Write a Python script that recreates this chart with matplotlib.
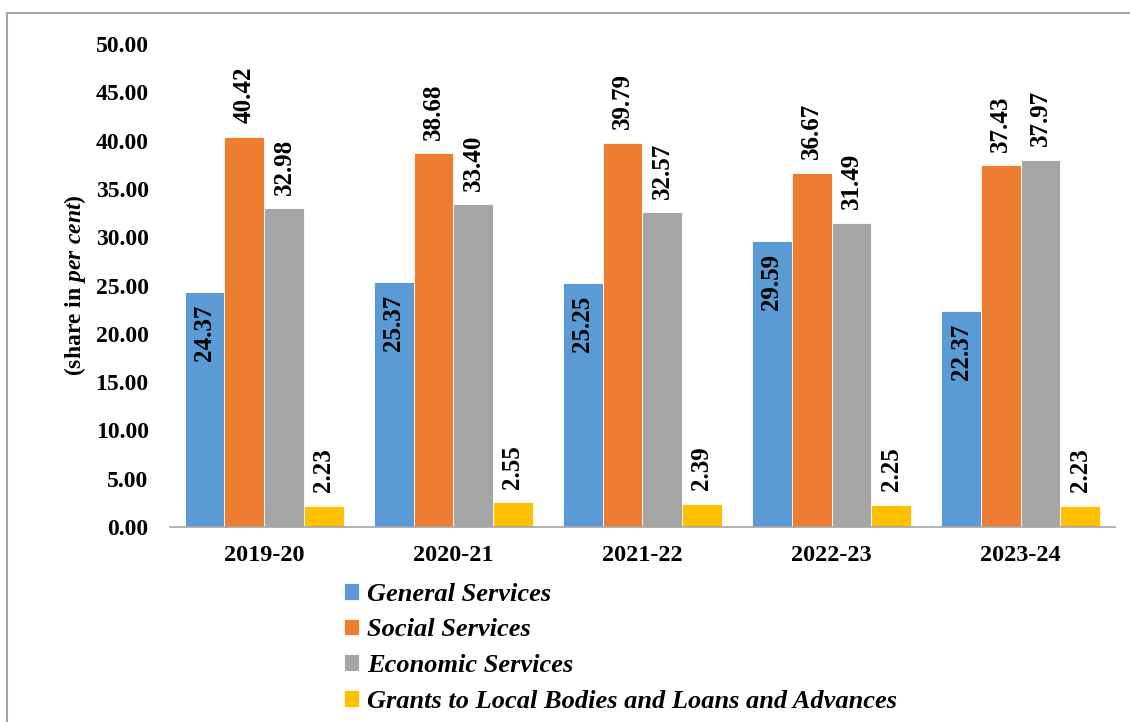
import numpy as np
import matplotlib
matplotlib.use("Agg")
import matplotlib.pyplot as plt
from matplotlib.lines import Line2D

plt.rcParams['font.family'] = ['Liberation Serif', 'DejaVu Serif']
plt.rcParams['font.weight'] = 'bold'
plt.rcParams['mathtext.fontset'] = 'custom'
plt.rcParams['mathtext.it'] = 'Liberation Serif:italic:bold'
plt.rcParams['mathtext.rm'] = 'Liberation Serif:bold'

years = ["2019-20", "2020-21", "2021-22", "2022-23", "2023-24"]
general = [24.37, 25.37, 25.25, 29.59, 22.37]
social = [40.42, 38.68, 39.79, 36.67, 37.43]
economic = [32.98, 33.40, 32.57, 31.49, 37.97]
grants = [2.23, 2.55, 2.39, 2.25, 2.23]

series = [
    ("General Services", general, "#5B9BD5"),
    ("Social Services", social, "#ED7D31"),
    ("Economic Services", economic, "#A5A5A5"),
    ("Grants to Local Bodies and Loans and Advances", grants, "#FFC000"),
]

fig = plt.figure(figsize=(11.3, 7.22), dpi=100)
ax = fig.add_axes([0.150, 0.270, 0.837, 0.669])

x = np.arange(len(years))
w = 0.21
for i, (name, vals, col) in enumerate(series):
    pos = x + (i - 1.5) * w
    bars = ax.bar(pos, vals, w, color=col, edgecolor="white", linewidth=0.6, label=name)
    for b, v in zip(bars, vals):
        cx = b.get_x() + b.get_width() / 2
        if i == 0:
            ax.annotate(f"{v:.2f}", (cx, v), xytext=(0, -9), textcoords="offset points",
                        rotation=90, ha="center", va="top", fontsize=18, fontweight="bold")
        else:
            ax.annotate(f"{v:.2f}", (cx, v), xytext=(0, 10), textcoords="offset points",
                        rotation=90, ha="center", va="bottom", fontsize=18, fontweight="bold")

ax.set_xlim(-0.5, len(years) - 0.5)
ax.set_ylim(0, 50)
ax.set_yticks(np.arange(0, 50.1, 5))
ax.set_yticklabels([f"{t:.2f}" for t in np.arange(0, 50.1, 5)])
ax.set_xticks(x)
ax.set_xticklabels(years)
ax.tick_params(axis="y", length=0, pad=15, labelsize=17)
ax.tick_params(axis="x", length=0, pad=13, labelsize=17.5)
for s in ["top", "right", "left"]:
    ax.spines[s].set_visible(False)
ax.spines["bottom"].set_color("#A6A6A6")
ax.spines["bottom"].set_linewidth(1.2)

ax.set_ylabel(r"(share in $per\ cent$)", fontsize=17, fontweight="bold")
ax.yaxis.set_label_coords(-0.086, 0.5)

fig.legend(loc="upper left", bbox_to_anchor=(0.304, 0.193), frameon=False,
           prop={"family": "Liberation Serif", "style": "italic", "weight": "bold", "size": 19},
           handlelength=0.6, handleheight=0.6, handletextpad=0.3, labelspacing=0.48,
           borderaxespad=0, borderpad=0)

# outer frame
fig.add_artist(Line2D([0.0062, 1.0], [0.982, 0.982], transform=fig.transFigure, color="#A6A6A6", lw=1.5))
fig.add_artist(Line2D([0.0062, 0.0062], [0.0, 0.982], transform=fig.transFigure, color="#A6A6A6", lw=1.5))

fig.savefig("out.png", dpi=100)
